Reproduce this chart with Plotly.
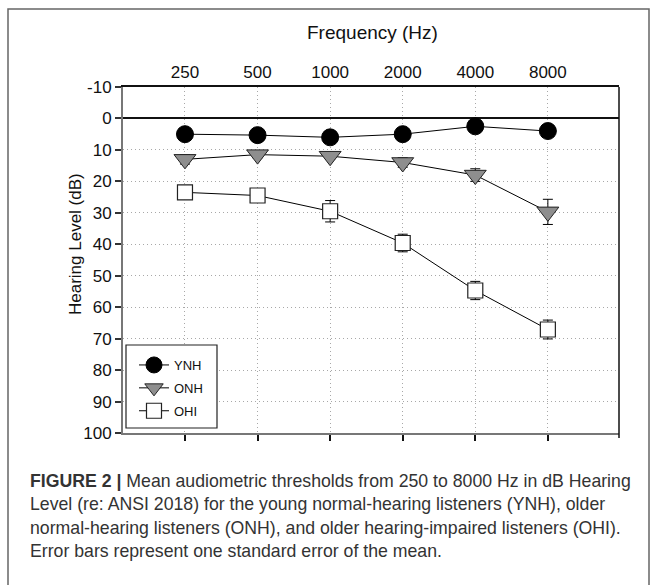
import plotly.graph_objects as go

freqs = ["250", "500", "1000", "2000", "4000", "8000"]
ynh = [5.0, 5.3, 6.0, 5.0, 2.5, 4.0]
ynh_err = [1.0, 1.0, 1.0, 1.0, 1.0, 1.0]
onh = [13.0, 11.5, 12.0, 14.0, 18.0, 29.7]
onh_err = [1.5, 1.0, 1.0, 1.5, 2.0, 4.0]
ohi = [23.5, 24.5, 29.5, 39.6, 54.7, 67.1]
ohi_err = [1.5, 2.0, 3.4, 2.8, 2.9, 3.0]
ytick_vals = [-10, 0, 10, 20, 30, 40, 50, 60, 70, 80, 90, 100]
ytick_text = ["-10", "0", "10", "20", "30", "40", "50", "60", "70", "80", "90", "100"]

W, H = 657, 585
L, R, T, B = 123, 619, 87, 433
FONT = "Liberation Sans, Arial, sans-serif"


def px(x):
    return (x - L) / (R - L)


def py(y):
    return (B - y) / (B - T)


fig = go.Figure()

series = [
    ("YNH", ynh, ynh_err, dict(symbol="circle", size=17, color="black", line=dict(color="black", width=1))),
    ("ONH", onh, onh_err, dict(symbol="triangle-down", size=19, color="#8e8e8e", line=dict(color="#222", width=1))),
    ("OHI", ohi, ohi_err, dict(symbol="square", size=15, color="white", line=dict(color="#222", width=1.2))),
]
for name, vals, err, mk in series:
    fig.add_trace(go.Scatter(
        x=freqs, y=vals, name=name, mode="lines+markers", legendgroup=name,
        line=dict(color="black", width=1),
        marker=mk,
        error_y=dict(type="data", array=err, color="black", thickness=1, width=5),
    ))

# invisible trace on bottom axis for its ticks
fig.add_trace(go.Scatter(x=freqs, y=[None] * len(freqs), xaxis="x2", showlegend=False, hoverinfo="skip"))

tick_font = dict(family=FONT, size=17, color="#111")
GRID = dict(showgrid=True, gridcolor="#a8a8a8", griddash="1px,3px", gridwidth=1)

fig.update_layout(
    width=W, height=H,
    margin=dict(l=L, r=W - R, t=T, b=H - B),
    paper_bgcolor="white", plot_bgcolor="white",
    showlegend=True,
    legend=dict(
        x=px(134), y=py(350), xanchor="left", yanchor="top",
        borderwidth=0, bgcolor="rgba(0,0,0,0)",
        font=dict(family=FONT, size=13, color="#111"),
        tracegroupgap=3, itemwidth=30,
    ),
    xaxis=dict(
        type="category", side="top", range=[-0.854, 5.98],
        ticks="", showline=True, linecolor="#111", linewidth=1.5,
        tickfont=tick_font, **GRID,
    ),
    xaxis2=dict(
        type="category", overlaying="x", side="bottom", anchor="y", range=[-0.854, 5.98],
        showgrid=False, ticks="outside", ticklen=6, tickcolor="#111", tickwidth=1.5,
        showticklabels=False, showline=True, linecolor="#777", linewidth=2,
    ),
    yaxis=dict(
        range=[100, -10], tickmode="array", tickvals=ytick_vals, ticktext=ytick_text,
        zeroline=True, zerolinecolor="#111", zerolinewidth=1.5,
        ticks="outside", ticklen=6, tickcolor="#333", tickwidth=1.5,
        showline=True, linecolor="#777", linewidth=2,
        tickfont=tick_font, **GRID,
    ),
)

# axis titles
fig.add_annotation(text="Frequency (Hz)", xref="paper", yref="paper", x=px(372), y=py(33),
                   xanchor="center", yanchor="middle", showarrow=False,
                   font=dict(family=FONT, size=19, color="#111"))
fig.add_annotation(text="Hearing Level (dB)", xref="paper", yref="paper", x=px(75), y=py(244),
                   xanchor="center", yanchor="middle", showarrow=False, textangle=-90,
                   font=dict(family=FONT, size=17, color="#111"))

# right border, legend box, outer frame
fig.add_shape(type="line", xref="paper", yref="paper", x0=1, x1=1, y0=py(438), y1=1,
              line=dict(color="#111", width=1.5))
fig.add_shape(type="rect", xref="paper", yref="paper", x0=px(126), x1=px(217), y0=py(428), y1=py(345),
              line=dict(color="#222", width=1.2), fillcolor="white", layer="above")
fig.add_shape(type="rect", xref="paper", yref="paper", x0=px(8), x1=px(649), y0=py(600), y1=py(9),
              line=dict(color="#666", width=1.5), layer="below")

cap_font = dict(family=FONT, size=17.7, color="#333")
caption = [
    "<b>FIGURE 2 |</b> Mean audiometric thresholds from 250 to 8000 Hz in dB Hearing",
    "Level (re: ANSI 2018) for the young normal-hearing listeners (YNH), older",
    "normal-hearing listeners (ONH), and older hearing-impaired listeners (OHI).",
    "Error bars represent one standard error of the mean.",
]
for i, line in enumerate(caption):
    fig.add_annotation(text=line, xref="paper", yref="paper", x=px(28), y=py(481 + 23.3 * i),
                       xanchor="left", yanchor="middle", showarrow=False, font=cap_font)

fig.write_html("out.html", config={"displayModeBar": False},
               post_script="document.body.style.margin='0';")
